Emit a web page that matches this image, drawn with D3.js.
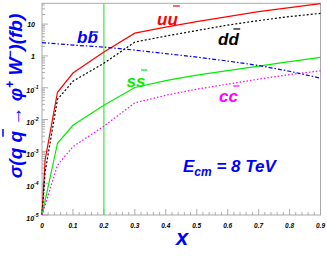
<!DOCTYPE html>
<html>
<head>
<meta charset="utf-8">
<script src="https://cdn.jsdelivr.net/npm/d3@7"></script>
<style>
body { margin: 0; background: #fff; }
text { font-family: "Liberation Sans", Arial, sans-serif; font-weight: bold; font-style: italic; }
</style>
</head>
<body>
<div id="chart"></div>
<script>
// x points of the curves
var xvals = [0, 0.01, 0.05, 0.1, 0.2, 0.3, 0.4, 0.5, 0.6, 0.7, 0.8, 0.9];
// cross sections (fb)
var uu = [1e-5, 5.3e-4, 0.072, 0.29, 1.32, 5.2, 8.05, 12.0, 17.2, 24.7, 33, 44];
var dd = [1e-5, 2.2e-4, 0.043, 0.16, 0.59, 2.72, 4.2, 6.25, 9.3, 12.9, 17.2, 21.7];
var ss = [1e-5, 2.8e-5, 1.8e-3, 6.6e-3, 0.028, 0.102, 0.167, 0.249, 0.345, 0.478, 0.66, 0.9];
var cc = [1e-5, 2e-5, 3.7e-4, 1.4e-3, 6.2e-3, 0.0335, 0.058, 0.09, 0.13, 0.186, 0.258, 0.34];
var bb = [2.62, 2.58, 2.39, 2.19, 1.89, 1.52, 1.18, 0.92, 0.69, 0.50, 0.33, 0.20];

var names = ["uu", "dd", "ss", "cc", "bb"];
var colors = ["#ff0000", "#000000", "#00ee00", "#ff00ff", "#0000ff"];
var dashes = [null, "2,2", null, "1.5,2", "4,2,1.5,2"];

var xticks = [0, 0.1, 0.2, 0.3, 0.4, 0.5, 0.6, 0.7, 0.8, 0.9];
var yticks = [1e-5, 1e-4, 1e-3, 1e-2, 1e-1, 1, 10];
var xcut = 0.2;

function main() {
    var w = 327, h = 260;
    var margin = {top: 3.3, bottom: 45, left: 42, right: 6.5};

    var svg = d3.select("#chart").append("svg")
        .attr("width", w)
        .attr("height", h);

    var x = d3.scaleLinear().domain([0, 0.9]).range([margin.left, w - margin.right]);
    var y = d3.scaleLog().domain([1e-5, 45]).range([h - margin.bottom, margin.top]);

    var series = [uu, dd, ss, cc, bb];

    // frame
    svg.append("rect")
        .attr("x", x(0)).attr("y", y(45))
        .attr("width", x(0.9) - x(0)).attr("height", y(1e-5) - y(45))
        .style("fill", "none").style("stroke", "#aaa").style("stroke-width", 1);

    // x ticks (major every 0.1, minor every 0.02)
    var minorX = d3.range(0, 45).map(function(i){ return i * 0.02; });
    svg.append("g").selectAll("line").data(minorX).enter().append("line")
        .attr("x1", function(d){ return x(d); }).attr("x2", function(d){ return x(d); })
        .attr("y1", y(1e-5)).attr("y2", function(d, i){ return y(1e-5) - (i % 5 == 0 ? 6 : 3); })
        .style("stroke", "#999").style("stroke-width", 0.8);

    svg.append("g").selectAll("text").data(xticks).enter().append("text")
        .attr("x", function(d){ return x(d); })
        .attr("y", 228.3)
        .attr("text-anchor", "middle")
        .style("font-size", "6.5px")
        .text(function(d){ return d == 0 ? "0" : d3.format(".1f")(d); });

    // y ticks (log)
    var minorY = [];
    yticks.forEach(function(t) {
        for (var k = 1; k < 10; k++) {
            if (t * k <= 45) minorY.push({v: t * k, major: k == 1});
        }
    });
    svg.append("g").selectAll("line").data(minorY).enter().append("line")
        .attr("x1", x(0)).attr("x2", function(d){ return x(0) + (d.major ? 6 : 3); })
        .attr("y1", function(d){ return y(d.v); }).attr("y2", function(d){ return y(d.v); })
        .style("stroke", "#999").style("stroke-width", 0.8);

    var ylab = svg.append("g").selectAll("text").data(yticks).enter().append("text")
        .style("font-size", "7px")
        .attr("text-anchor", "end");
    ylab.each(function(d) {
        var t = d3.select(this);
        var e = Math.round(Math.log10(d));
        if (e == 0 || e == 1) {
            t.attr("x", 35).attr("y", y(d) + 3).text(e == 0 ? "1" : "10");
        } else {
            t.attr("x", 38.5).attr("y", y(d) + 5.5);
            t.append("tspan").text("10");
            t.append("tspan").attr("dy", -4).style("font-size", "5px").text(e);
        }
    });

    // vertical cut at x = 0.2
    svg.append("line")
        .attr("x1", x(xcut)).attr("x2", x(xcut))
        .attr("y1", y(45)).attr("y2", y(1e-5))
        .style("stroke", "#33ee33").style("stroke-width", 1.2);

    // curves
    var line = d3.line()
        .x(function(d, i){ return x(xvals[i]); })
        .y(function(d){ return y(d); });

    svg.append("g").selectAll("path").data(series).enter().append("path")
        .attr("d", line)
        .style("fill", "none")
        .style("stroke", function(d, i){ return colors[i]; })
        .style("stroke-width", 1.2)
        .style("stroke-dasharray", function(d, i){ return dashes[i]; });

    // curve labels: text with an overbar on the second letter
    var labelPos = [[157, 25, -19], [218, 45, -16], [126.5, 87, -17], [219, 102, -16], [77, 43, -11]];
    names.forEach(function(n, i) {
        var t = svg.append("text")
            .attr("x", labelPos[i][0]).attr("y", labelPos[i][1])
            .style("font-size", "17px")
            .style("fill", colors[i])
            .text(n);
        overbar(svg, t, 1, labelPos[i][2], colors[i], 1.2);
    });

    // energy label
    var e = svg.append("text").attr("x", 183).attr("y", 171.5)
        .style("font-size", "17px").style("fill", "#0000ff");
    e.append("tspan").text("E");
    e.append("tspan").attr("dy", 4.5).style("font-size", "12px").text("cm");
    e.append("tspan").attr("dy", -4.5).text(" = 8 TeV");

    // x axis title
    svg.append("text").attr("x", 182).attr("y", 245)
        .attr("text-anchor", "middle")
        .style("font-size", "22px").style("fill", "#0000ff")
        .text("x");

    // y axis title
    var g = svg.append("g").attr("transform", "translate(22,96) rotate(-90)");
    var yt = g.append("text").attr("x", 0).attr("y", 0)
        .attr("text-anchor", "middle")
        .style("font-size", "19px").style("fill", "#0000ff");
    yt.append("tspan").text("\u03c3(q q \u2192 \u03c6");
    yt.append("tspan").attr("dy", -8).style("font-size", "12px").text("+");
    yt.append("tspan").attr("dy", 8).text(" W");
    yt.append("tspan").attr("dy", -8).style("font-size", "12px").text("\u2212");
    yt.append("tspan").attr("dy", 8).text(")(fb)");
    overbar(g, yt, 4, -19, "#0000ff", 1.5);
}

function overbar(parent, t, idx, dy, color, sw) {
    var node = t.node();
    var x0 = node.getStartPositionOfChar(idx);
    var x1 = node.getEndPositionOfChar(idx);
    var slant = -dy * 0.2;
    var cx = (x0.x + x1.x) / 2 + slant;
    var half = (x1.x - x0.x) * 0.33;
    parent.append("line")
        .attr("x1", cx - half).attr("x2", cx + half)
        .attr("y1", x0.y + dy).attr("y2", x0.y + dy)
        .style("stroke", color).style("stroke-width", sw);
}

main();
</script>
</body>
</html>
